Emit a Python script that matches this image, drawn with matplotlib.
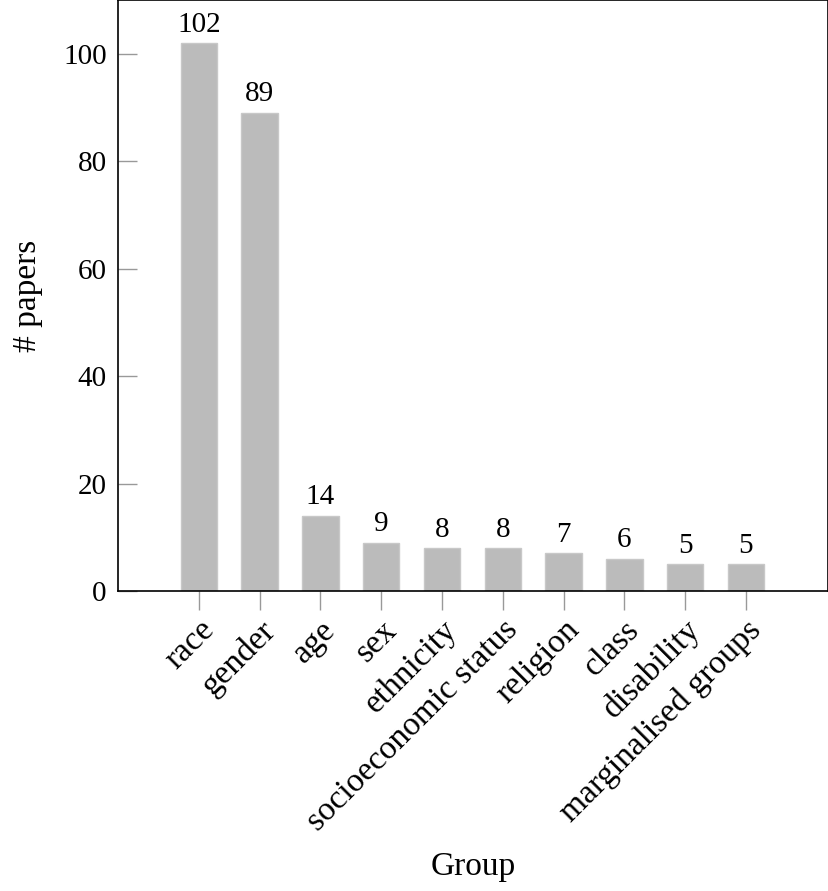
import matplotlib
matplotlib.use("Agg")
import matplotlib.pyplot as plt
import numpy as np

groups = ["race", "gender", "age", "sex", "ethnicity", "socioeconomic status",
          "religion", "class", "disability", "marginalised groups"]
papers = [102, 89, 14, 9, 8, 8, 7, 6, 5, 5]

plt.rcParams['font.family'] = ['Liberation Serif', 'DejaVu Serif']
plt.rcParams['font.size'] = 21

fig = plt.figure(figsize=(8.29, 8.91), dpi=100)
ax = fig.add_axes([0.1423, 0.3367, 0.8565, 0.6633])

x = np.arange(len(groups))
ax.bar(x, papers, width=0.6, color='#bbbbbb', edgecolor='#c8c8c8', linewidth=1)
for xi, v in zip(x, papers):
    ax.text(xi, v + 1.0, str(v), ha='center', va='bottom', fontsize=21)

ax.set_xlim(-1.33, 10.35)
ax.set_ylim(0, 110)
ax.set_yticks([0, 20, 40, 60, 80, 100])
ax.set_xticks(x)
ax.set_xticklabels(groups, rotation=45, ha='right', rotation_mode='anchor', fontsize=24)
ax.tick_params(axis='x', direction='out', length=14, color='#999999', width=1, pad=3)
ax.tick_params(axis='y', direction='in', length=14, color='#999999', width=1, pad=8)
for s in ax.spines.values():
    s.set_linewidth(1.2)

ax.set_ylabel("# papers", fontsize=24)
ax.yaxis.set_label_coords(-0.105, 0.5)
ax.set_xlabel("Group", fontsize=24)
ax.xaxis.set_label_coords(0.5, -0.44)

fig.savefig("out.png", dpi=100)
